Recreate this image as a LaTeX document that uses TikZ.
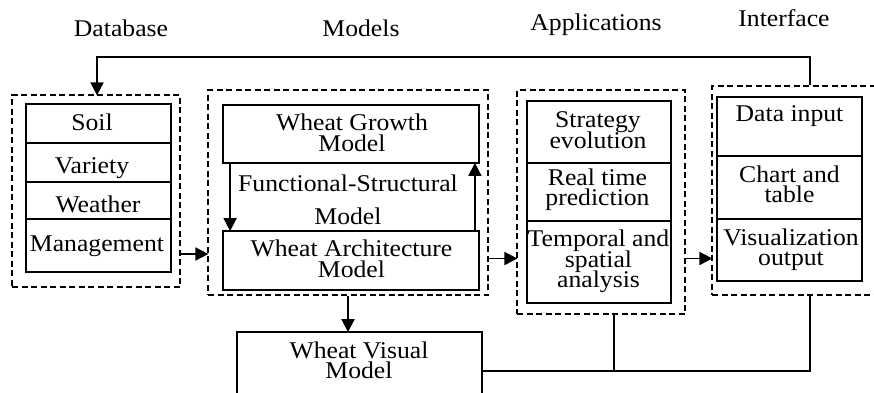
\documentclass[tikz,border=0pt]{standalone}
\usepackage{fontspec}
\setmainfont{Liberation Serif}[FakeStretch=1.07]
\usetikzlibrary{arrows.meta,fit}
% centred lines with a fixed baseline distance; the node's baseline is the first line's
\newcommand\stack[2][20.5]{\vtop{\baselineskip=#1pt\lineskiplimit=-100pt\lineskip=0pt\halign{\hfil##\hfil\cr#2\crcr}}}
\tikzset{
  dashbox/.style={draw, line width=1.2pt, dash pattern=on 6pt off 3.5pt, inner sep=0pt},
  cell/.style={draw, line width=1.8pt, inner sep=0pt},
  txt/.style={inner sep=0pt, anchor=base, font=\fontsize{24}{20.5}\selectfont},
  link/.style={line width=1.7pt},
  arr/.style={link, -{Triangle[length=13pt,width=13pt]}, shorten >=-1pt}
}
\begin{document}
\begin{tikzpicture}[x=1pt,y=-1pt]
\clip (0,0) rectangle (874,392);
\fill[white] (0,0) rectangle (874,392);

% column headings
\node[txt] (hdb) at (121,36) {Database};
\node[txt] (hmod) at (361,36) {Models};
\node[txt] (happ) at (596,30.7) {Applications};
\node[txt] (hif) at (784,26.7) {Interface};

% database column
\node[dashbox, fit={(12,95) (180,287)}] (db) {};
\node[cell, fit={(26,104) (171,143)}] (soil) {};
\node[cell, fit={(26,143) (171,182)}] (variety) {};
\node[cell, fit={(26,182) (171,219)}] (weather) {};
\node[cell, fit={(26,219) (171,272)}] (mgmt) {};
\node[txt] (tsoil) at (92,130) {Soil};
\node[txt] (tvariety) at (92,173) {Variety};
\node[txt] (tweather) at (98,212) {Weather};
\node[txt] (tmgmt) at (97,251) {Management};

% models column
\node[dashbox, fit={(208,90) (488,295)}] (models) {};
\node[cell, fit={(223,105) (479,163)}] (growth) {};
\node[cell, fit={(223,231) (479,290)}] (arch) {};
\node[txt] (tgrowth) at (352,130.5) {\stack{Wheat Growth\cr Model}};
\node[txt] (tfsm) at (348,191) {\stack[33]{Functional-Structural\cr Model}};
\node[txt] (tarch) at (351.5,256.5) {\stack{Wheat Architecture\cr Model}};
\draw[arr] ([xshift=8pt]growth.south west) -- ([xshift=8pt]arch.north west);
\draw[arr] ([xshift=-5pt]arch.north east) -- ([xshift=-5pt]growth.south east);

% visual model below
\node[cell, fit={(237,332) (482,400)}] (visual) {};
\node[txt] (tvisual) at (359,358.3) {\stack{Wheat Visual\cr Model}};

% applications column
\node[dashbox, fit={(517,90) (685,314)}] (apps) {};
\node[cell, fit={(527,101) (671,163)}] (strategy) {};
\node[cell, fit={(527,163) (671,221)}] (realtime) {};
\node[cell, fit={(527,221) (671,303)}] (spatial) {};
\node[txt] (tstrategy) at (598,127.5) {\stack{Strategy\cr evolution}};
\node[txt] (trealtime) at (597.5,185) {\stack{Real time\cr prediction}};
\node[txt] (tspatial) at (598.5,246.7) {\stack{Temporal and\cr spatial\cr analysis}};

% interface column
\node[dashbox, fit={(712,86) (884,295)}] (iface) {};
\node[cell, fit={(717,97) (862,156)}] (datain) {};
\node[cell, fit={(717,156) (862,219)}] (chart) {};
\node[cell, fit={(717,219) (862,281)}] (visout) {};
\node[txt] (tdatain) at (789.5,121.7) {Data input};
\node[txt] (tchart) at (789.5,182.3) {\stack{Chart and\cr table}};
\node[txt] (tvisout) at (791,245) {\stack{Visualization\cr output}};

% flow between the columns
\coordinate (rowa) at (0,254);
\coordinate (rowb) at (0,258.5);
\draw[arr] (db.east |- rowa) -- (models.west |- rowa);
\draw[arr] (models.east |- rowb) -- (apps.west |- rowb);
\draw[arr] (apps.east |- rowb) -- (iface.west |- rowb);
\draw[arr] (models.south) -- (models.south |- visual.north);

% feedback from the interface to the database
\coordinate (fbr) at (810,57);
\coordinate (fbl) at (97,57);
\draw[arr] (iface.north -| fbr) -- (fbr) -- (fbl) -- (db.north -| fbl);

% lines joining the visual model to applications and interface
\coordinate (bus) at (614,371);
\draw[link] (visual.east |- bus) -| (iface.south -| fbr);
\draw[link] (apps.south -| bus) -- (bus);
\end{tikzpicture}
\end{document}
